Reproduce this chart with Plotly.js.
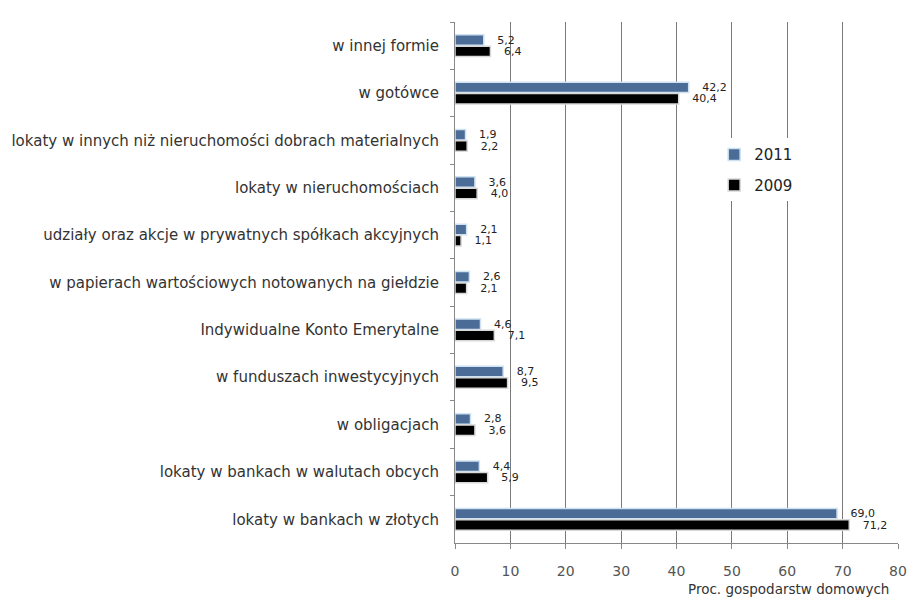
<!DOCTYPE html>
<html><head><meta charset="utf-8">
<script src="https://cdn.plot.ly/plotly-3.0.1.min.js"></script>
<style>html,body{margin:0;padding:0;background:#fff}#c{width:911px;height:597px}</style>
</head><body><div id="c"></div>
<script>
const categories = [
  "w innej formie",
  "w gotówce",
  "lokaty w innych niż nieruchomości dobrach materialnych",
  "lokaty w nieruchomościach",
  "udziały oraz akcje w prywatnych spółkach akcyjnych",
  "w papierach wartościowych notowanych na giełdzie",
  "Indywidualne Konto Emerytalne",
  "w funduszach inwestycyjnych",
  "w obligacjach",
  "lokaty w bankach w walutach obcych",
  "lokaty w bankach w złotych"
];
const values2011 = [5.2, 42.2, 1.9, 3.6, 2.1, 2.6, 4.6, 8.7, 2.8, 4.4, 69.0];
const values2009 = [6.4, 40.4, 2.2, 4.0, 1.1, 2.1, 7.1, 9.5, 3.6, 5.9, 71.2];
const xTicks = [0, 10, 20, 30, 40, 50, 60, 70, 80];
const xAxisTitle = 'Proc. gospodarstw domowych';

const common = {
  type: 'bar', orientation: 'h', y: categories,
  texttemplate: '\u00a0\u00a0\u00a0%{x:.1f}', textposition: 'outside', cliponaxis: false,
  constraintext: 'none',
  textfont: {family: 'DejaVu Sans, Verdana, sans-serif', size: 11, color: '#222'},
  hoverinfo: 'none'
};
const data = [
  Object.assign({}, common, {name: '2011', legendgroup: 'a', x: values2011,
    marker: {color: '#4b6c96', line: {color: '#cfe2f2', width: 1.5}}}),
  Object.assign({}, common, {name: '2009', legendgroup: 'b', x: values2009,
    marker: {color: '#000000', line: {color: '#d8d8d8', width: 1.5}}})
];
const layout = {
  width: 911, height: 597,
  margin: {l: 455, r: 13, t: 22, b: 54},
  paper_bgcolor: '#fff', plot_bgcolor: '#fff',
  separators: ',.',
  barmode: 'group', bargap: 0.52, bargroupgap: 0.08,
  showlegend: true,
  legend: {x: 0.585, y: 0.777, xanchor: 'left', yanchor: 'top', bgcolor: '#fff',
    traceorder: 'grouped', tracegroupgap: 8,
    font: {family: 'DejaVu Sans, Verdana, sans-serif', size: 15, color: '#222'},
    itemwidth: 30},
  xaxis: {
    range: [0, 80], tickvals: xTicks, ticktext: xTicks.map(String),
    showgrid: true, gridcolor: '#7a7a7a', gridwidth: 1,
    zeroline: false, showline: true, linecolor: '#888', linewidth: 1,
    ticks: 'outside', ticklen: 5, tickcolor: '#888',
    ticklabelstandoff: 10,
    tickfont: {family: 'DejaVu Sans, Verdana, sans-serif', size: 14, color: '#555'},
    fixedrange: true
  },
  yaxis: {
    type: 'category', autorange: 'reversed',
    showline: true, linecolor: '#888', linewidth: 1,
    ticks: 'outside', ticklen: 4, tickcolor: '#888', tickson: 'boundaries',
    showgrid: false,
    tickfont: {family: 'DejaVu Sans, Verdana, sans-serif', size: 15, color: '#333'},
    ticklabelstandoff: 12,
    fixedrange: true
  },
  annotations: [{
    text: xAxisTitle, xref: 'paper', yref: 'paper', x: 0.985, y: -0.088,
    xanchor: 'right', yanchor: 'middle', showarrow: false,
    font: {family: 'DejaVu Sans, Verdana, sans-serif', size: 13.5, color: '#333'}
  }]
};
Plotly.newPlot('c', data, layout, {displayModeBar: false, staticPlot: true});
</script>
</body></html>
